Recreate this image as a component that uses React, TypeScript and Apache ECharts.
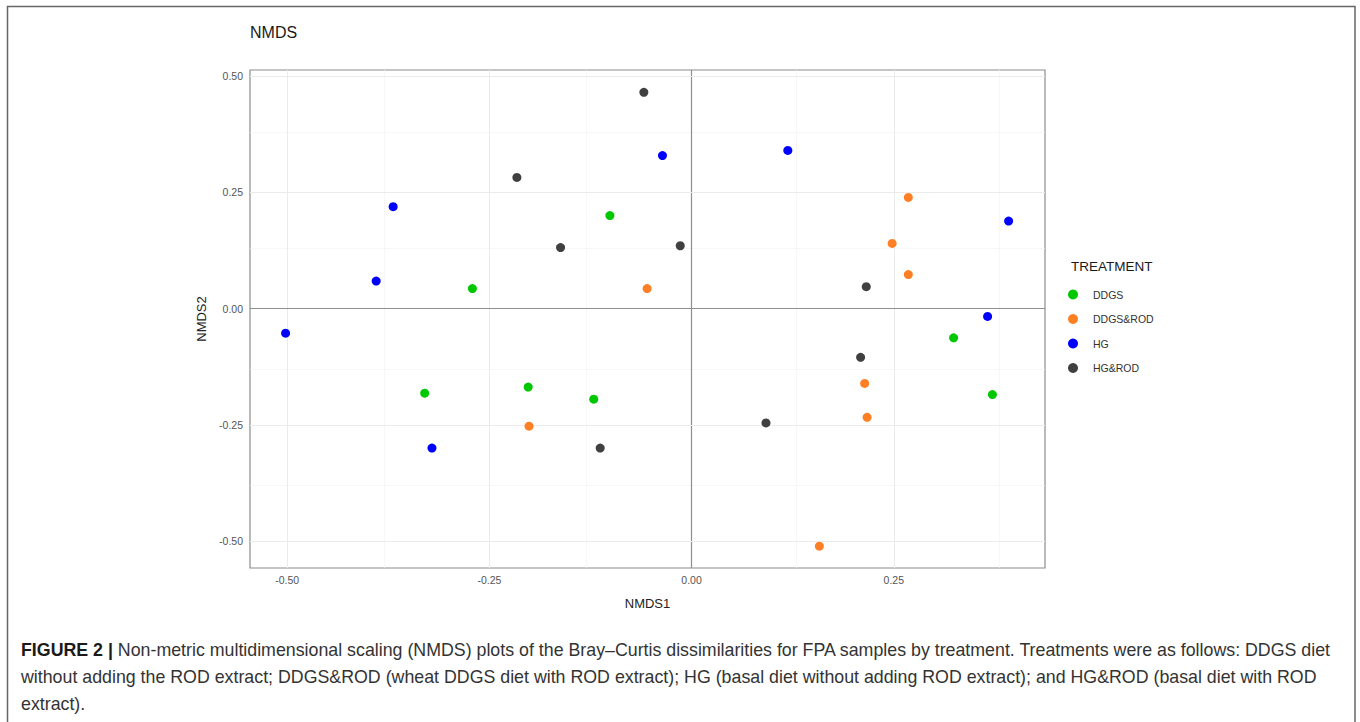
import React, { useEffect, useRef } from "react";
import * as echarts from "echarts";

const GROUPS = ["DDGS", "DDGS&ROD", "HG", "HG&ROD"];
const COLORS = ["#00C800", "#FF7F24", "#0000FF", "#404040"];

const DDGS_X = [-0.101, -0.271, -0.330, -0.202, -0.121, 0.324, 0.372];
const DDGS_Y = [0.200, 0.043, -0.182, -0.169, -0.195, -0.063, -0.185];
const DDGSROD_X = [-0.055, 0.268, 0.248, 0.268, -0.201, 0.214, 0.217, 0.158];
const DDGSROD_Y = [0.043, 0.239, 0.140, 0.073, -0.253, -0.161, -0.234, -0.511];
const HG_X = [-0.036, -0.369, -0.390, 0.119, 0.392, -0.502, -0.321, 0.366];
const HG_Y = [0.329, 0.219, 0.059, 0.340, 0.188, -0.053, -0.300, -0.017];
const HGROD_X = [-0.059, -0.216, -0.162, -0.014, 0.216, 0.209, -0.113, 0.092];
const HGROD_Y = [0.465, 0.282, 0.131, 0.135, 0.047, -0.105, -0.300, -0.246];

const X_TICKS = [-0.5, -0.25, 0, 0.25];
const Y_TICKS = [-0.5, -0.25, 0, 0.25, 0.5];
const X_MINOR = [-0.375, -0.125, 0.125, 0.375];
const Y_MINOR = [-0.375, -0.125, 0.125, 0.375];

const CAPTION_LINES = [
  "{b|FIGURE 2 |} Non-metric multidimensional scaling (NMDS) plots of the Bray\u2013Curtis dissimilarities for FPA samples by treatment. Treatments were as follows: DDGS diet",
  "without adding the ROD extract; DDGS&ROD (wheat DDGS diet with ROD extract); HG (basal diet without adding ROD extract); and HG&ROD (basal diet with ROD",
  "extract).",
];

const FONT = "'Liberation Sans', Arial, Helvetica, sans-serif";

function zip(xs: number[], ys: number[]) {
  return xs.map((x, i) => [x, ys[i]]);
}

export default function App() {
  const ref = useRef<HTMLDivElement>(null);
  useEffect(() => {
    if (!ref.current) return;
    const chart = echarts.init(ref.current, null, { renderer: "svg" });
    const groupData = [
      zip(DDGS_X, DDGS_Y),
      zip(DDGSROD_X, DDGSROD_Y),
      zip(HG_X, HG_Y),
      zip(HGROD_X, HGROD_Y),
    ];
    const major = { color: "#ebebeb", width: 1, type: "solid" };
    const minor = { color: "#f4f4f4", width: 0.7, type: "solid" };
    const zero = { color: "#8f8f8f", width: 1.2, type: "solid" };
    const lineData: any[] = [];
    X_MINOR.forEach((v) => lineData.push({ xAxis: v, lineStyle: minor }));
    Y_MINOR.forEach((v) => lineData.push({ yAxis: v, lineStyle: minor }));
    X_TICKS.forEach((v) => lineData.push({ xAxis: v, lineStyle: v === 0 ? zero : major }));
    Y_TICKS.forEach((v) => lineData.push({ yAxis: v, lineStyle: v === 0 ? zero : major }));

    const fmt = (v: number) => v.toFixed(2);
    const CAP = 17.8;

    chart.setOption({
      animation: false,
      backgroundColor: "#ffffff",
      textStyle: { fontFamily: FONT },
      grid: {
        left: 250,
        top: 70,
        width: 795,
        height: 498,
        show: true,
        borderColor: "#8c8c8c",
        borderWidth: 1.2,
        backgroundColor: "transparent",
        containLabel: false,
      },
      xAxis: {
        type: "value",
        min: -0.546,
        max: 0.437,
        splitLine: { show: false },
        axisLine: { show: false },
        axisTick: {
          show: true,
          length: 3,
          customValues: X_TICKS,
          lineStyle: { color: "#7f7f7f", width: 1 },
        },
        axisLabel: {
          customValues: X_TICKS,
          formatter: fmt,
          color: "#555555",
          fontSize: 10.5,
          margin: 6,
          fontFamily: FONT,
        },
        name: "NMDS1",
        nameLocation: "middle",
        nameGap: 29,
        nameTextStyle: { fontSize: 13, color: "#222222", fontFamily: FONT },
      },
      yAxis: {
        type: "value",
        min: -0.558,
        max: 0.513,
        splitLine: { show: false },
        axisLine: { show: false },
        axisTick: {
          show: true,
          length: 3,
          customValues: Y_TICKS,
          lineStyle: { color: "#7f7f7f", width: 1 },
        },
        axisLabel: {
          customValues: Y_TICKS,
          formatter: fmt,
          color: "#555555",
          fontSize: 10.5,
          margin: 7,
          fontFamily: FONT,
        },
        name: "NMDS2",
        nameLocation: "middle",
        nameGap: 38,
        nameRotate: 90,
        nameTextStyle: { fontSize: 13, color: "#222222", fontFamily: FONT },
      },
      legend: {
        orient: "vertical",
        left: 1068,
        top: 289,
        padding: 0,
        itemWidth: 26,
        itemHeight: 10,
        itemGap: 13.5,
        icon: "circle",
        selectedMode: false,
        data: GROUPS,
        textStyle: { fontSize: 10.5, color: "#333333", fontFamily: FONT, padding: [0, 0, 0, 2] },
      },
      series: [
        {
          type: "scatter",
          name: "__grid",
          data: [],
          z: 1,
          silent: true,
          markLine: {
            silent: true,
            symbol: "none",
            z: 1,
            label: { show: false },
            animation: false,
            data: lineData,
          },
        },
        ...GROUPS.map((g, i) => ({
          type: "scatter",
          name: g,
          data: groupData[i],
          symbol: "circle",
          symbolSize: 9,
          itemStyle: { color: COLORS[i], opacity: 1 },
          z: 10,
        })),
      ],
      graphic: [
        {
          type: "rect",
          shape: { x: 7.5, y: 6.5, width: 1347.5, height: 760 },
          style: { fill: "none", stroke: "#666666", lineWidth: 1.5 },
          silent: true,
          z: 0,
        },
        {
          type: "text",
          left: 250,
          top: 24,
          style: { text: "NMDS", fontSize: 16, fill: "#1a1a1a", fontFamily: FONT },
        },
        {
          type: "text",
          left: 1071,
          top: 259,
          style: { text: "TREATMENT", fontSize: 13.5, fill: "#1a1a1a", fontFamily: FONT },
        },
        ...CAPTION_LINES.map((t, i) => ({
          type: "text",
          left: 21,
          top: 641 + i * 27,
          style: {
            text: t,
            fontSize: CAP,
            fill: "#333333",
            fontFamily: FONT,
            rich: {
              b: { fontSize: CAP, fontWeight: "bold", fill: "#1a1a1a", fontFamily: FONT },
            },
          },
        })),
      ],
    });
    return () => chart.dispose();
  }, []);
  return (
    <div
      ref={ref}
      style={{ position: "fixed", left: 0, top: 0, width: 1360, height: 722, background: "#fff" }}
    />
  );
}
